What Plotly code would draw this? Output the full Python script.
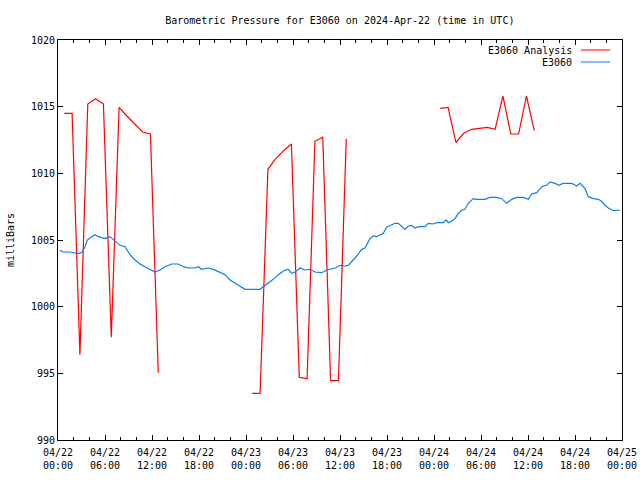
import plotly.graph_objects as go
import pandas as pd

START = pd.Timestamp("2024-04-22 00:00")

# Analysis series (hours since 2024-04-22 00:00 UTC, mb); None = gap
analysis_hours = [0.8, 1.8, 2.8, 3.8, 4.8, 5.8, 6.8, 7.8, 8.8, 9.8, 10.8, 11.8, 12.8, 18.0,
                  24.8, 25.8, 26.8, 27.8, 28.8, 29.8, 30.8, 31.8, 32.8, 33.8, 34.8, 35.8, 36.8, 42.0,
                  48.8, 49.8, 50.8, 51.8, 52.8, 53.8, 54.8, 55.8, 56.8, 57.8, 58.8, 59.8, 60.8]
analysis_mb = [1014.5, 1014.5, 996.4, 1015.2, 1015.6, 1015.2, 997.7, 1014.95, 1014.3, 1013.7, 1013.1, 1012.95, 995.05, None,
               993.5, 993.5, 1010.3, 1011.1, 1011.7, 1012.2, 994.7, 994.6, 1012.4, 1012.7, 994.45, 994.45, 1012.6, None,
               1014.87, 1014.95, 1012.3, 1013.0, 1013.3, 1013.4, 1013.45, 1013.3, 1015.8, 1012.95, 1012.95, 1015.8, 1013.2]

# Observed series
obs_hours = [0.26, 0.55, 0.89, 1.53, 2.39, 3.03, 3.45, 3.74, 4.30, 4.72, 5.14, 6.0, 6.64, 7.28, 7.91, 8.55,
             9.19, 9.83, 10.47, 11.11, 11.74, 12.38, 13.02, 13.66, 14.51, 15.36, 16.0, 16.63, 17.49, 17.91,
             18.34, 19.19, 19.83, 20.68, 21.32, 21.96, 22.6, 23.23, 23.87, 24.51, 25.15, 25.79, 26.21, 26.85,
             27.48, 28.12, 28.98, 29.4, 29.83, 30.26, 30.89, 31.53, 32.17, 32.81, 33.66, 34.3, 35.36, 36.0,
             36.64, 37.06, 37.7, 38.13, 38.77, 39.19, 39.83, 40.25, 40.69, 41.11, 41.53, 41.96, 42.38, 43.02,
             43.44, 43.88, 44.3, 44.72, 45.15, 45.57, 46.0, 46.85, 47.27, 47.91, 48.34, 49.19, 49.53, 49.83,
             50.26, 50.68, 51.1, 51.54, 51.96, 52.38, 53.02, 53.45, 54.51, 55.15, 56.0, 56.64, 57.28, 57.92,
             58.56, 59.4, 60.04, 60.47, 61.11, 61.75, 62.39, 62.81, 63.45, 63.87, 64.51, 65.58, 66.21, 66.64,
             67.28, 67.7, 68.34, 68.97, 69.41, 69.83, 70.26, 70.9, 71.74]
obs_mb = [1004.25, 1004.1, 1004.1, 1004.1, 1004.0, 1004.05, 1004.5, 1005.0, 1005.25, 1005.4, 1005.25, 1005.1, 1005.25, 1004.9, 1004.6, 1004.5,
          1003.9, 1003.5, 1003.2, 1003.0, 1002.8, 1002.6, 1002.75, 1003.0, 1003.2, 1003.2, 1003.0, 1002.9, 1002.9, 1003.0,
          1002.8, 1002.9, 1002.8, 1002.6, 1002.4, 1002.0, 1001.75, 1001.5, 1001.3, 1001.3, 1001.3, 1001.3, 1001.5, 1001.75,
          1002.05, 1002.4, 1002.75, 1002.8, 1002.5, 1002.6, 1002.9, 1002.75, 1002.8, 1002.6, 1002.55, 1002.75, 1002.9, 1003.1,
          1003.05, 1003.1, 1003.5, 1003.8, 1004.3, 1004.4, 1005.1, 1005.3, 1005.25, 1005.4, 1005.5, 1005.95, 1006.05, 1006.25,
          1006.25, 1006.05, 1005.8, 1006.05, 1006.1, 1005.9, 1006.0, 1006.0, 1006.25, 1006.2, 1006.3, 1006.3, 1006.5, 1006.3,
          1006.4, 1006.6, 1007.0, 1007.25, 1007.3, 1007.75, 1008.1, 1008.05, 1008.05, 1008.2, 1008.2, 1008.1, 1007.75, 1008.05,
          1008.2, 1008.2, 1008.05, 1008.45, 1008.55, 1009.0, 1009.1, 1009.35, 1009.25, 1009.1, 1009.25, 1009.25, 1009.05, 1009.25,
          1008.85, 1008.25, 1008.1, 1008.05, 1007.9, 1007.6, 1007.4, 1007.2, 1007.25]

series_names = ["E3060 Analysis", "E3060"]
series_colors = ["#ff0000", "#0a7cf5"]
title_text = "Barometric Pressure for E3060 on 2024-Apr-22 (time in UTC)"
y_title = "milliBars"

def to_times(hours):
    return [START + pd.to_timedelta(h, unit="h") for h in hours]

FONT = "DejaVu Sans Mono"

fig = go.Figure()
fig.add_trace(go.Scatter(x=to_times(analysis_hours), y=analysis_mb, mode="lines",
                         line=dict(color=series_colors[0], width=1.2), connectgaps=False,
                         name=series_names[0], showlegend=False))
fig.add_trace(go.Scatter(x=to_times(obs_hours), y=obs_mb, mode="lines",
                         line=dict(color=series_colors[1], width=1.2),
                         name=series_names[1], showlegend=False))

axis_common = dict(showgrid=False, zeroline=False, showline=True, linecolor="black", linewidth=1,
                   mirror="allticks", ticks="inside", tickcolor="black", ticklen=5, tickwidth=1,
                   automargin=False,
                   tickfont=dict(family=FONT, size=10, color="black"))

fig.update_xaxes(type="date", range=[START, START + pd.Timedelta(hours=72)],
                 tick0=START, dtick=6 * 3600 * 1000, tickformat="%m/%d<br>%H:%M",
                 ticklabelstandoff=3,
                 minor=dict(dtick=2 * 3600 * 1000, ticks="inside", ticklen=3, tickcolor="black", showgrid=False),
                 **axis_common)
fig.update_yaxes(range=[990, 1020], dtick=5, tick0=990,
                 title=dict(text=y_title, font=dict(family=FONT, size=10, color="black"), standoff=14),
                 **axis_common)

# legend (gnuplot style: text left of sample)
legend_y = [0.975, 0.945]
for name, col, yy in zip(series_names, series_colors, legend_y):
    fig.add_annotation(xref="paper", yref="paper", x=0.915, y=yy, text=name, showarrow=False,
                       xanchor="right", yanchor="middle", font=dict(family=FONT, size=10, color="black"))
    fig.add_shape(type="line", xref="paper", yref="paper", x0=0.927, x1=0.979, y0=yy, y1=yy,
                  line=dict(color=col, width=1))

fig.update_layout(
    width=640, height=480,
    margin=dict(l=58, r=18, t=40, b=40),
    paper_bgcolor="white", plot_bgcolor="white",
    title=dict(text=title_text, x=0.531, xanchor="center", y=0.958, yanchor="middle",
               font=dict(family=FONT, size=10, color="black")),
    font=dict(family=FONT, size=10, color="black"),
)

fig.write_html("out.html", config={"displayModeBar": False},
               post_script="document.body.style.margin='0';")
